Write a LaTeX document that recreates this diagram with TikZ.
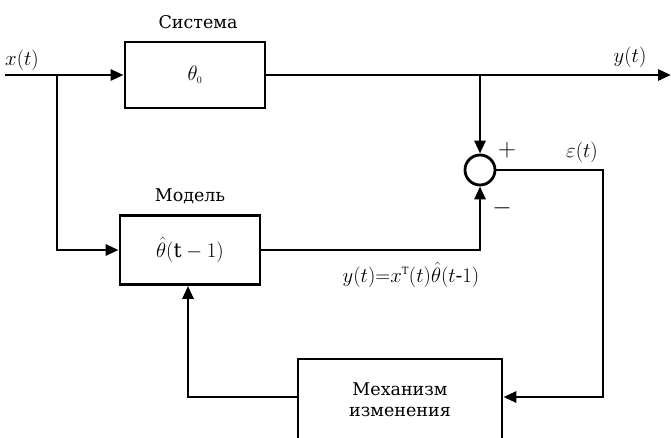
\documentclass[tikz,border=0pt]{standalone}
\usepackage{fontspec}
\setmainfont{DejaVu Serif}
\usetikzlibrary{arrows.meta}
\begin{document}
\begin{tikzpicture}[x=1pt,y=-1pt,
  every node/.style={font=\fontsize{20}{23}\selectfont},
  blk/.style={draw,line width=2.8pt,minimum width=140pt,inner sep=0pt},
  wire/.style={line width=2.8pt},
  tip/.style={-{Triangle[length=13pt,width=11pt]}},
  lbl/.style={inner sep=1pt},
  txt/.style={inner sep=1pt,font=\fontsize{17.5}{20}\selectfont}]
\useasboundingbox (0,0) rectangle (671,438);
\clip (0,0) rectangle (671,438);
\node[blk,minimum height=66pt] (sys) at (195,75) {$\theta_{\scriptscriptstyle 0}$};
\node[blk,minimum height=69pt] (model) at (190,250) {$\hat\theta(\mathrm{t}-1)$};
\node[blk,minimum width=204pt,minimum height=82pt,align=center,font=\fontsize{17.5}{22}\selectfont] (mech) at (400,400) {Механизм\\[-1pt]изменения};
\node[draw,circle,line width=2.8pt,minimum size=30pt,inner sep=0pt] (sum) at (480,170) {};
\node[txt] (sysl) at (198,22) {Система};
\node[txt] (modl) at (190,196) {Модель};
\node[lbl] (xl) at (22,60) {$x(t)$};
\node[lbl] (yl) at (630,57) {$y(t)$};
\node[lbl] (el) at (582,152) {$\varepsilon(t)$};
\node[lbl,font=\fontsize{26}{28}\selectfont] (pl) at (507,150) {$+$};
\node[lbl,font=\fontsize{26}{28}\selectfont] (ml) at (502,208) {$-$};
\node[lbl] (eq) at (411,275) {$y(t){=}x^{\scriptscriptstyle\mathrm{T}}(t)\hat\theta(t\mbox{-}1)$};
\coordinate (in) at (5,75);
\coordinate (br) at (57,75);
\coordinate (out) at (671,75);
\coordinate (ob) at (480,75);
\coordinate (er) at (603,397);
\coordinate (fb) at (188,397);
\draw[wire,tip] (in) -- (sys.west);
\draw[wire,tip] (br) |- (model.west);
\draw[wire,tip] (sys.east) -- (out);
\draw[wire,tip] (ob) -- (sum.north);
\draw[wire,tip] (model.east) -| (sum.south);
\draw[wire,tip] (sum.east) -| (er) -- (er -| mech.east);
\draw[wire,tip] (fb -| mech.west) -- (fb) -- (fb |- model.south);
\end{tikzpicture}
\end{document}
